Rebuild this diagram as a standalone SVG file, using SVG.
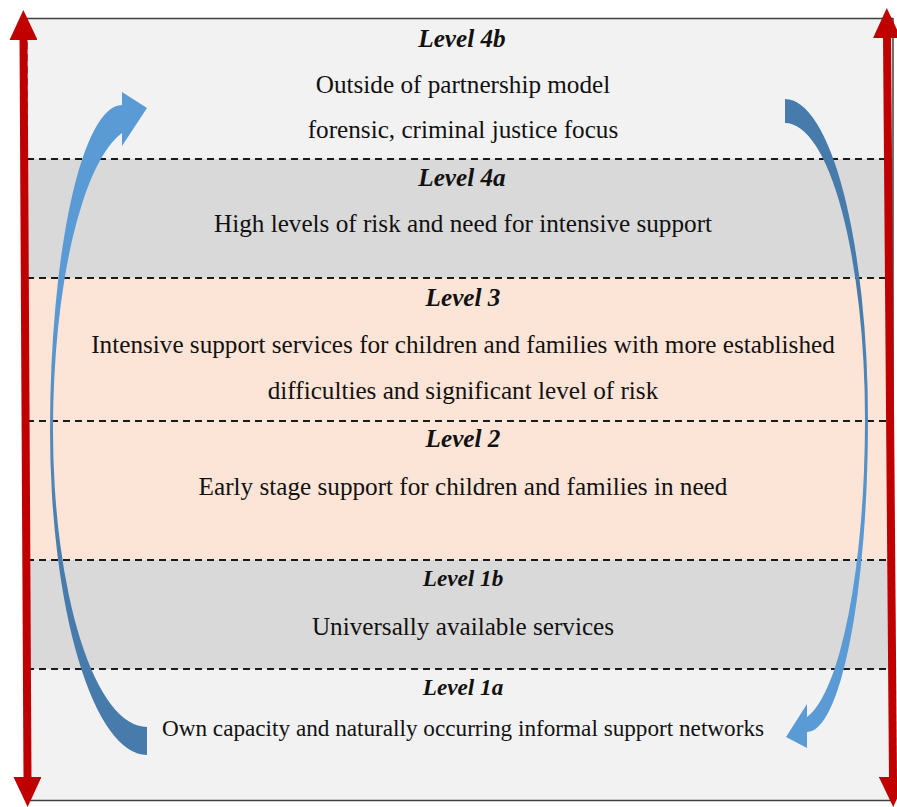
<svg xmlns="http://www.w3.org/2000/svg" width="897" height="807" viewBox="0 0 897 807">
  <style>
    .band-light { fill: #f2f2f2; }
    .band-grey { fill: #d9d9d9; }
    .band-peach { fill: #fce4d6; }
    .divider { stroke: #1a1a1a; stroke-width: 2; stroke-dasharray: 7 5; fill: none; }
    .frame { stroke: #404040; stroke-width: 1.5; fill: none; }
    text { font-family: "Liberation Serif", "DejaVu Serif", serif; font-size: 25.2px; fill: #111; text-anchor: middle; }
    .title { font-weight: bold; font-style: italic; }
    .desc { font-weight: normal; font-style: normal; }
    .small { font-size: 23.2px; }
    .red-axis { stroke: #c00000; stroke-width: 8; fill: none; marker-start: url(#redHead); marker-end: url(#redHead); }
  </style>
  <defs>
    <marker id="redHead" viewBox="0 0 30 28" refX="2" refY="14" markerWidth="30" markerHeight="28" markerUnits="userSpaceOnUse" orient="auto-start-reverse">
      <path d="M0,0 L30,14 L0,28 Z" fill="#c00000"/>
    </marker>
    <linearGradient id="upFlow" gradientUnits="userSpaceOnUse" x1="0" y1="92" x2="0" y2="755">
      <stop offset="0" stop-color="#5b9bd5"/>
      <stop offset="0.32" stop-color="#5b9bd5"/>
      <stop offset="0.72" stop-color="#467bac"/>
      <stop offset="1" stop-color="#467bac"/>
    </linearGradient>
    <linearGradient id="downFlow" gradientUnits="userSpaceOnUse" x1="0" y1="99" x2="0" y2="748">
      <stop offset="0" stop-color="#467bac"/>
      <stop offset="0.3" stop-color="#467bac"/>
      <stop offset="0.7" stop-color="#5b9bd5"/>
      <stop offset="1" stop-color="#5b9bd5"/>
    </linearGradient>
  </defs>

  <!-- level bands -->
  <g id="level-4b">
    <rect class="band-light" x="27" y="18" width="866" height="141"/>
    <text class="title" x="462" y="47">Level 4b</text>
    <text class="desc" x="463" y="93">Outside of partnership model</text>
    <text class="desc" x="463" y="138">forensic, criminal justice focus</text>
  </g>
  <g id="level-4a">
    <rect class="band-grey" x="27" y="159" width="866" height="119"/>
    <text class="title" x="462" y="186">Level 4a</text>
    <text class="desc" x="463" y="232">High levels of risk and need for intensive support</text>
  </g>
  <g id="level-3">
    <rect class="band-peach" x="27" y="278" width="866" height="143"/>
    <text class="title" x="463" y="306">Level 3</text>
    <text class="desc" x="463" y="353">Intensive support services for children and families with more established</text>
    <text class="desc" x="463" y="399">difficulties and significant level of risk</text>
  </g>
  <g id="level-2">
    <rect class="band-peach" x="27" y="421" width="866" height="139"/>
    <text class="title" x="463" y="447">Level 2</text>
    <text class="desc" x="463" y="495">Early stage support for children and families in need</text>
  </g>
  <g id="level-1b">
    <rect class="band-grey" x="27" y="560" width="866" height="109"/>
    <text class="title small" x="463" y="586">Level 1b</text>
    <text class="desc" x="463" y="635">Universally available services</text>
  </g>
  <g id="level-1a">
    <rect class="band-light" x="27" y="669" width="866" height="131"/>
    <text class="title small" x="463" y="695">Level 1a</text>
    <text class="desc small" x="463" y="736">Own capacity and naturally occurring informal support networks</text>
  </g>

  <!-- band dividers and outer frame -->
  <g id="frame">
    <line class="divider" x1="27" y1="159" x2="886" y2="159"/>
    <line class="divider" x1="27" y1="278" x2="886" y2="278"/>
    <line class="divider" x1="27" y1="421" x2="886" y2="421"/>
    <line class="divider" x1="27" y1="560" x2="886" y2="560"/>
    <line class="divider" x1="27" y1="669" x2="886" y2="669"/>
    <line class="divider" x1="26.5" y1="18" x2="26.5" y2="800"/>
    <line class="frame" x1="26" y1="18.5" x2="893" y2="18.5"/>
    <line class="frame" x1="893" y1="18" x2="893" y2="800"/>
    <line class="frame" x1="27" y1="800.5" x2="893" y2="800.5"/>
  </g>

  <g id="connectors">
    <!-- escalation / de-escalation axes -->
    <line class="red-axis" x1="23.5" y1="38" x2="27.5" y2="779"/>
    <line class="red-axis" x1="887" y1="36" x2="893" y2="779"/>
    <!-- upward curved flow on the left -->
    <path fill="url(#upFlow)" d="M122,92 L147,108 L122,146 L122,133 A87 303.6 0 0 0 53,430 A94 297 0 0 0 147,727 L147,755 A97 325 0 0 1 50,430 A72 325 0 0 1 122,105 Z"/>
    <!-- downward curved flow on the right -->
    <path fill="url(#downFlow)" d="M785,99 A83 321 0 0 1 868,420 A61 312 0 0 1 807,732 L807,748 L786,737 L807,704 L807,717 A70 301.5 0 0 0 865,420 A80 297 0 0 0 785,123 Z"/>
  </g>
</svg>
